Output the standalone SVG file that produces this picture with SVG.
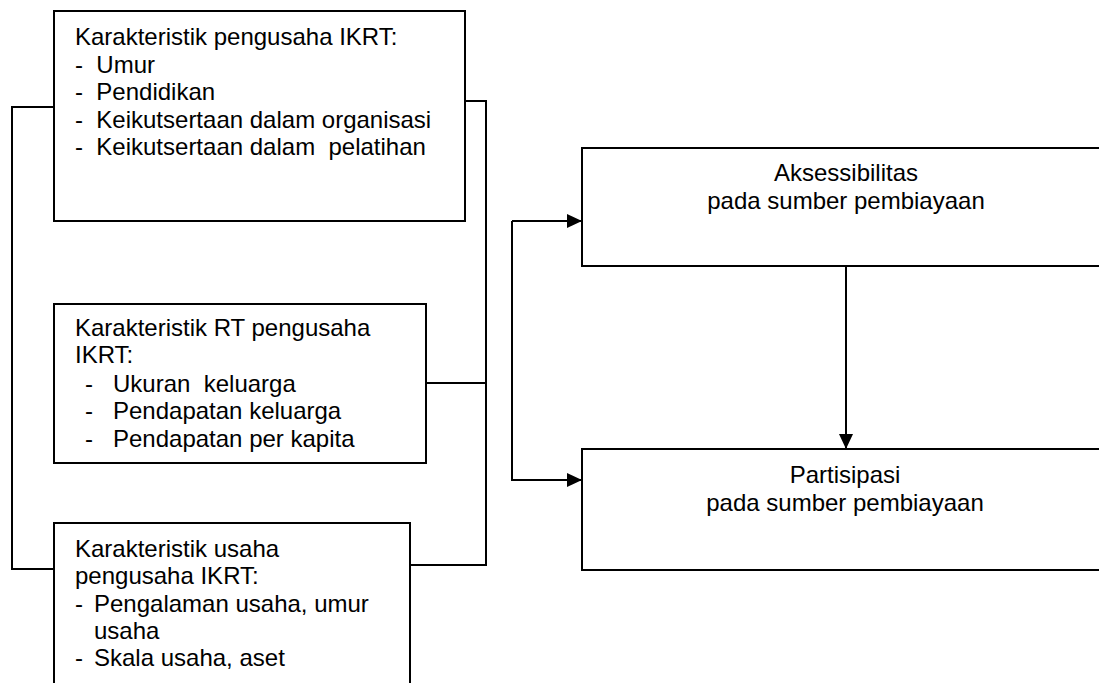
<svg xmlns="http://www.w3.org/2000/svg" width="1099" height="683" viewBox="0 0 1099 683">
<style>
.box{fill:#fff;stroke:#000;stroke-width:2}
.t{font-family:"Liberation Sans",Arial,sans-serif;font-size:24px;fill:#000;white-space:pre}
.c{text-anchor:middle}
.ln{fill:none;stroke:#000;stroke-width:2}
</style>
<defs>
<marker id="ah" markerWidth="15" markerHeight="14" refX="15" refY="7" orient="auto" markerUnits="userSpaceOnUse">
<path d="M0,0 L15,7 L0,14 Z" fill="#000"/>
</marker>
</defs>
<g id="connectors">
<polyline class="ln" points="54,107 12,107 12,569 54,569"/>
<polyline class="ln" points="465,101 486,101 486,565 410,565"/>
<line class="ln" x1="426" y1="383" x2="486" y2="383"/>
<path class="ln" d="M512,221 H582" marker-end="url(#ah)"/>
<path class="ln" d="M512,221 V480 H582" marker-end="url(#ah)"/>
<path class="ln" d="M846,265 V449" marker-end="url(#ah)"/>
</g>
<g id="n1">
<rect class="box" x="54" y="11" width="411" height="210"/>
<text class="t" x="75" y="45">Karakteristik pengusaha IKRT:</text>
<text class="t" x="75" y="72.5">-  Umur</text>
<text class="t" x="75" y="100">-  Pendidikan</text>
<text class="t" x="75" y="127.5">-  Keikutsertaan dalam organisasi</text>
<text class="t" x="75" y="155">-  Keikutsertaan dalam  pelatihan</text>
</g>
<g id="n2">
<rect class="box" x="54" y="304" width="372" height="159"/>
<text class="t" x="75" y="336">Karakteristik RT pengusaha</text>
<text class="t" x="75" y="363">IKRT:</text>
<text class="t" x="85" y="392">-</text><text class="t" x="113" y="392">Ukuran  keluarga</text>
<text class="t" x="85" y="419">-</text><text class="t" x="113" y="419">Pendapatan keluarga</text>
<text class="t" x="85" y="447">-</text><text class="t" x="113" y="447">Pendapatan per kapita</text>
</g>
<g id="n3">
<rect class="box" x="54" y="523" width="356" height="175"/>
<text class="t" x="75" y="557">Karakteristik usaha</text>
<text class="t" x="75" y="584">pengusaha IKRT:</text>
<text class="t" x="75" y="612">-</text><text class="t" x="94" y="612">Pengalaman usaha, umur</text>
<text class="t" x="94" y="639">usaha</text>
<text class="t" x="75" y="666">-</text><text class="t" x="94" y="666">Skala usaha, aset</text>
</g>
<g id="n4">
<rect class="box" x="582" y="148" width="530" height="118"/>
<text class="t c" x="846" y="181">Aksessibilitas</text>
<text class="t c" x="846" y="208.5">pada sumber pembiayaan</text>
</g>
<g id="n5">
<rect class="box" x="582" y="449" width="530" height="121"/>
<text class="t c" x="845" y="483">Partisipasi</text>
<text class="t c" x="845" y="510.5">pada sumber pembiayaan</text>
</g>
</svg>
